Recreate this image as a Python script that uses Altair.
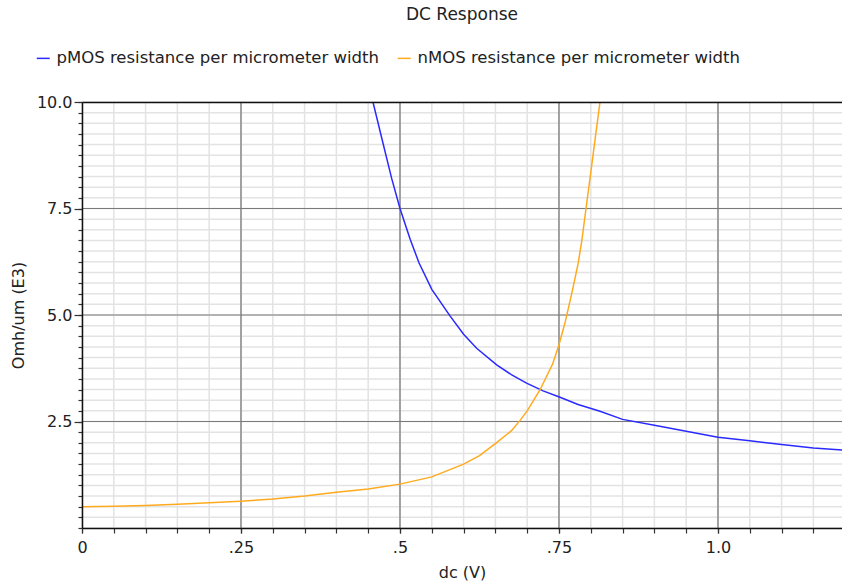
import altair as alt
import pandas as pd

# pMOS curve (blue)
v_p = [0.4575, 0.473, 0.487, 0.500, 0.516, 0.530, 0.550, 0.5786, 0.600, 0.6205,
       0.652, 0.675, 0.699, 0.725, 0.7516, 0.780, 0.8145, 0.850, 0.900, 0.950,
       1.000, 1.050, 1.100, 1.150, 1.195]
r_p = [10.0, 9.05, 8.2, 7.5, 6.78, 6.22, 5.6, 4.98, 4.55, 4.22,
       3.83, 3.6, 3.40, 3.22, 3.07, 2.9, 2.74, 2.55, 2.41, 2.27,
       2.13, 2.05, 1.96, 1.88, 1.83]

# nMOS curve (orange)
v_n = [0.0, 0.05, 0.10, 0.15, 0.20, 0.25, 0.30, 0.35, 0.40, 0.45,
       0.50, 0.55, 0.60, 0.625, 0.65, 0.675, 0.69, 0.70, 0.72, 0.74,
       0.75, 0.76, 0.77, 0.78, 0.786, 0.7925, 0.80, 0.807, 0.8145]
r_n = [0.50, 0.51, 0.53, 0.56, 0.59, 0.63, 0.68, 0.75, 0.84, 0.915,
       1.03, 1.20, 1.50, 1.70, 1.98, 2.28, 2.55, 2.75, 3.24, 3.85,
       4.3, 4.85, 5.5, 6.2, 6.76, 7.5, 8.35, 9.15, 10.0]

series = ["pMOS resistance per micrometer width", "nMOS resistance per micrometer width"]
colors = ["#2a2aff", "#ffaa1e"]

x_major = [0, 0.25, 0.5, 0.75, 1.0]
x_labels = ["0", ".25", ".5", ".75", "1.0"]
x_minor = [round(i * 0.05, 2) for i in range(0, 24)]
y_major = [2.5, 5.0, 7.5, 10.0]
y_minor = [round(i * 0.25, 2) for i in range(0, 41)]

x_domain = [0, 1.195]
y_domain = [0, 10]

df = pd.concat([
    pd.DataFrame({"dc": v_p, "R": r_p, "series": series[0], "order": range(len(v_p))}),
    pd.DataFrame({"dc": v_n, "R": r_n, "series": series[1], "order": range(len(v_n))}),
], ignore_index=True)

FONT = "DejaVu Sans"
TXT = "#222222"

label_expr = ""
for v, l in zip(x_major, x_labels):
    label_expr += f"datum.value == {v} ? '{l}' : "
label_expr += "''"

xs = alt.Scale(domain=x_domain, nice=False, zero=False)
ys = alt.Scale(domain=y_domain, nice=False, zero=False)

base = alt.Chart(df)

# grid lines drawn as rules from the tick value lists
gx_minor = alt.Chart(pd.DataFrame({"v": x_minor})).mark_rule(
    color="#e3e3e3", strokeWidth=1.5).encode(x=alt.X("v:Q", scale=xs, axis=None))
gy_minor = alt.Chart(pd.DataFrame({"v": y_minor})).mark_rule(
    color="#e3e3e3", strokeWidth=1.5).encode(y=alt.Y("v:Q", scale=ys, axis=None))
gx_major = alt.Chart(pd.DataFrame({"v": x_major[1:]})).mark_rule(
    color="#8f8f8f", strokeWidth=1.6).encode(x=alt.X("v:Q", scale=xs, axis=None))
gy_major = alt.Chart(pd.DataFrame({"v": y_major[:-1]})).mark_rule(
    color="#7a7a7a", strokeWidth=1.2).encode(y=alt.Y("v:Q", scale=ys, axis=None))

# minor ticks
minor = base.mark_line(strokeOpacity=0).encode(
    x=alt.X("dc:Q", scale=xs, axis=alt.Axis(
        orient="bottom", values=x_minor, grid=False, zindex=1,
        labels=False, ticks=True, tickSize=5, tickColor="#333333", tickWidth=1.2,
        domain=False, title=None)),
    y=alt.Y("R:Q", scale=ys, axis=alt.Axis(
        orient="left", values=y_minor, grid=False, zindex=1,
        labels=False, ticks=True, tickSize=4, tickColor="#333333", tickWidth=1.2,
        domain=False, title=None)),
    detail="series:N",
)

# major ticks, labels, titles
major = base.mark_line(strokeOpacity=0).encode(
    x=alt.X("dc:Q", scale=xs, axis=alt.Axis(
        orient="bottom", values=x_major, grid=False, zindex=1,
        labelExpr=label_expr, labelFont=FONT, labelFontSize=16, labelColor=TXT,
        labelPadding=6, labelFlush=False,
        ticks=True, tickSize=5, tickColor="#333333", tickWidth=1.2,
        domain=True, domainColor="#111111", domainWidth=1.5,
        title="dc (V)", titleFont=FONT, titleFontSize=16, titleFontWeight="normal",
        titleColor=TXT, titleX=380, titleY=44, titleBaseline="middle",
        titleAnchor="middle", titleAlign="center")),
    y=alt.Y("R:Q", scale=ys, axis=alt.Axis(
        orient="left", values=y_major, grid=False, zindex=1,
        format=".1f", labelFont=FONT, labelFontSize=16, labelColor=TXT,
        labelPadding=2,
        ticks=True, tickSize=8, tickColor="#333333", tickWidth=1.2,
        domain=True, domainColor="#111111", domainWidth=1.5,
        title="Omh/um (E3)", titleFont=FONT, titleFontSize=16, titleFontWeight="normal",
        titleColor=TXT, titleX=-64, titleY=213, titleAngle=270,
        titleBaseline="middle", titleAlign="center")),
    detail="series:N",
)

# top border
top = base.mark_line(strokeOpacity=0).encode(
    x=alt.X("dc:Q", scale=xs, axis=alt.Axis(
        orient="top", labels=False, ticks=False, grid=False, domain=True, zindex=1,
        domainColor="#111111", domainWidth=1.5, title=None)),
    y=alt.Y("R:Q", scale=ys, axis=None),
    detail="series:N",
)

lines = base.mark_line(strokeWidth=1.5, clip=True).encode(
    x=alt.X("dc:Q", scale=xs, axis=None),
    y=alt.Y("R:Q", scale=ys, axis=None),
    order="order:Q",
    color=alt.Color("series:N", scale=alt.Scale(domain=series, range=colors),
                    sort=series,
                    legend=alt.Legend(
                        orient="none", legendX=-47, legendY=-52, direction="horizontal",
                        title=None, symbolType="stroke", symbolSize=170,
                        symbolStrokeWidth=1.5, labelFont=FONT, labelFontSize=16.5,
                        labelColor=TXT, labelLimit=0, columnPadding=14,
                        labelOffset=5, padding=0)),
)

chart = alt.layer(gx_minor, gy_minor, gx_major, gy_major, minor, major, top, lines).resolve_axis(
    x="independent", y="independent"
).properties(
    width=760, height=426,
    autosize=alt.AutoSizeParams(type="none"),
    padding={"left": 82, "top": 102, "right": 0, "bottom": 57},
    title=alt.TitleParams("DC Response", anchor="middle", font=FONT, fontSize=17,
                          fontWeight="normal", color=TXT, offset=26),
).configure_view(stroke=None).configure(background="white")

chart.save("out.html", embed_options={"renderer": "svg", "actions": False})
